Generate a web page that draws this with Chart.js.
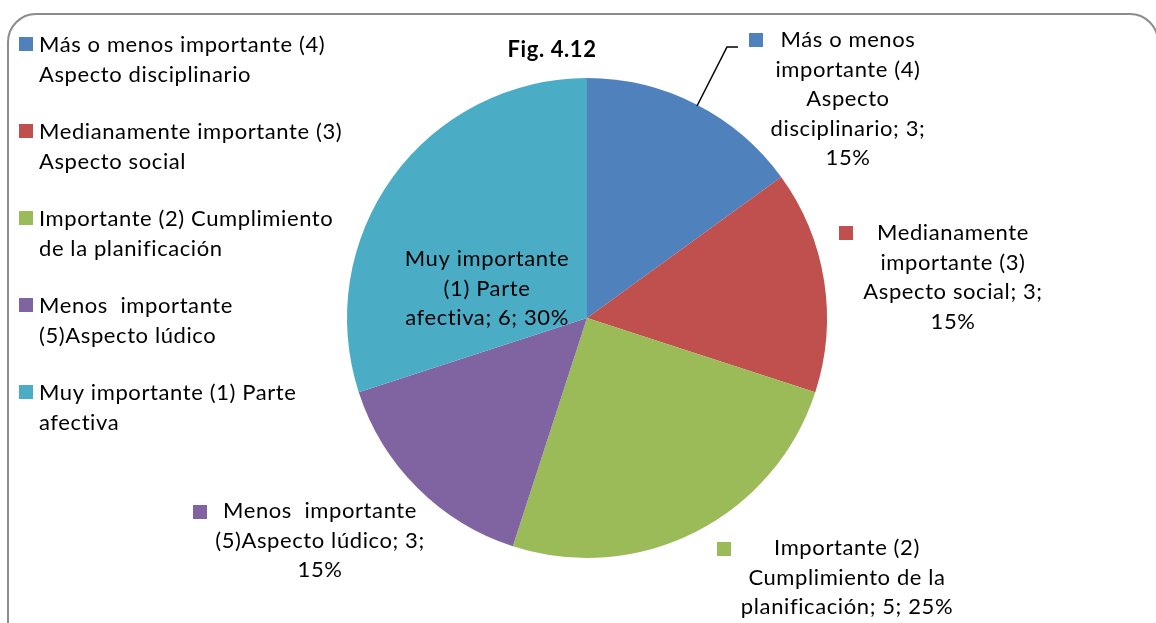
<!DOCTYPE html>
<html>
<head>
<meta charset="utf-8">
<script src="https://cdn.jsdelivr.net/npm/chart.js@4.4.1/dist/chart.umd.min.js"></script>
<style>
  body { margin: 0; background: #fff; }
  #wrap { width: 1156px; height: 623px; }
</style>
</head>
<body>
<div id="wrap"><canvas id="fig412" width="1156" height="623"></canvas></div>
<script>
// data
const categories = [
  'Más o menos importante (4) Aspecto disciplinario',
  'Medianamente importante (3) Aspecto social',
  'Importante (2) Cumplimiento de la planificación',
  'Menos  importante (5)Aspecto lúdico',
  'Muy importante (1) Parte afectiva'
];
const values = [3, 3, 5, 3, 6];
const colors = ['#4F81BD', '#C0504D', '#9BBB59', '#8064A2', '#4BACC6'];
const title = 'Fig. 4.12';

const FONT = 'Lato, "Liberation Sans", sans-serif';
const fontSize = 22;
const lineH = 29.5;

// where each data label sits: center x, first line y, wrap width, marker x/y
const labelPos = [
  { cx: 848, y: 40, w: 160, mx: 749, my: 33, lead: true },
  { cx: 953, y: 233, w: 185, mx: 839, my: 226 },
  { cx: 847, y: 548, w: 215, mx: 717, my: 542 },
  { cx: 320, y: 511, w: 215, mx: 193, my: 505 },
  { cx: 487, y: 259, w: 166 }
];

function wrap(ctx, text, maxW){
  let words = text.split(' ');
  let lines = [];
  let cur = '';
  for (let i = 0; i < words.length; i++) {
    let test = cur === '' ? words[i] : cur + ' ' + words[i];
    if (cur !== '' && words[i] !== '' && ctx.measureText(test).width > maxW) {
      lines.push(cur);
      cur = words[i];
    } else {
      cur = test;
    }
  }
  if (cur !== '') lines.push(cur);
  return lines;
}

const decorations = {
  id: 'decorations',
  beforeDraw(chart){
    const ctx = chart.ctx;
    ctx.save();
    ctx.fillStyle = '#fff';
    ctx.fillRect(0, 0, chart.width, chart.height);
    ctx.strokeStyle = '#8c8c8c';
    ctx.lineWidth = 2;
    ctx.beginPath();
    ctx.roundRect(8, 14, 1150, 640, 28);
    ctx.stroke();
    ctx.restore();
  },
  afterDraw(chart){
    const ctx = chart.ctx;
    const total = values.reduce((a, b) => a + b, 0);
    ctx.save();
    ctx.letterSpacing = '0.6px';
    ctx.font = 'bold ' + fontSize + 'px ' + FONT;
    ctx.fillStyle = '#000';
    ctx.textAlign = 'center';
    ctx.textBaseline = 'middle';
    ctx.fillText(title, 552, 50);

    // legend on the left
    ctx.font = fontSize + 'px ' + FONT;
    ctx.textAlign = 'left';
    for (let i = 0; i < categories.length; i++) {
      const y0 = 45 + i * 87;
      ctx.fillStyle = colors[i];
      ctx.fillRect(19, y0 - 8, 14, 14);
      ctx.fillStyle = '#000';
      const lines = wrap(ctx, categories[i], 306);
      lines.forEach((ln, k) => ctx.fillText(ln, 39, y0 + k * lineH));
    }

    // data labels
    ctx.textAlign = 'center';
    for (let i = 0; i < categories.length; i++) {
      const p = labelPos[i];
      const pct = Math.round(values[i] / total * 100);
      const text = categories[i] + '; ' + values[i] + '; ' + pct + '%';
      const lines = wrap(ctx, text, p.w);
      if (p.mx !== undefined) {
        ctx.fillStyle = colors[i];
        ctx.fillRect(p.mx, p.my, 14, 14);
      }
      ctx.fillStyle = '#000';
      lines.forEach((ln, k) => ctx.fillText(ln, p.cx, p.y + k * lineH));
      if (p.lead) {
        ctx.strokeStyle = '#000';
        ctx.lineWidth = 1.5;
        ctx.beginPath();
        ctx.moveTo(697, 106);
        ctx.lineTo(727, 47);
        ctx.lineTo(738, 47);
        ctx.stroke();
      }
    }
    ctx.restore();
  }
};

const ctx = document.getElementById('fig412');
const myChart = new Chart(ctx, {
  type: 'pie',
  data: {
    labels: categories,
    datasets: [{
      data: values,
      backgroundColor: colors,
      borderWidth: 0,
    }],
  },
  options: {
    responsive: false,
    animation: false,
    layout: {
      padding: { left: 347, right: 329, top: 78, bottom: 65 },
    },
    plugins: {
      legend: { display: false },
      title: { display: false },
      tooltip: { enabled: false },
    },
  },
  plugins: [decorations],
});
</script>
</body>
</html>
